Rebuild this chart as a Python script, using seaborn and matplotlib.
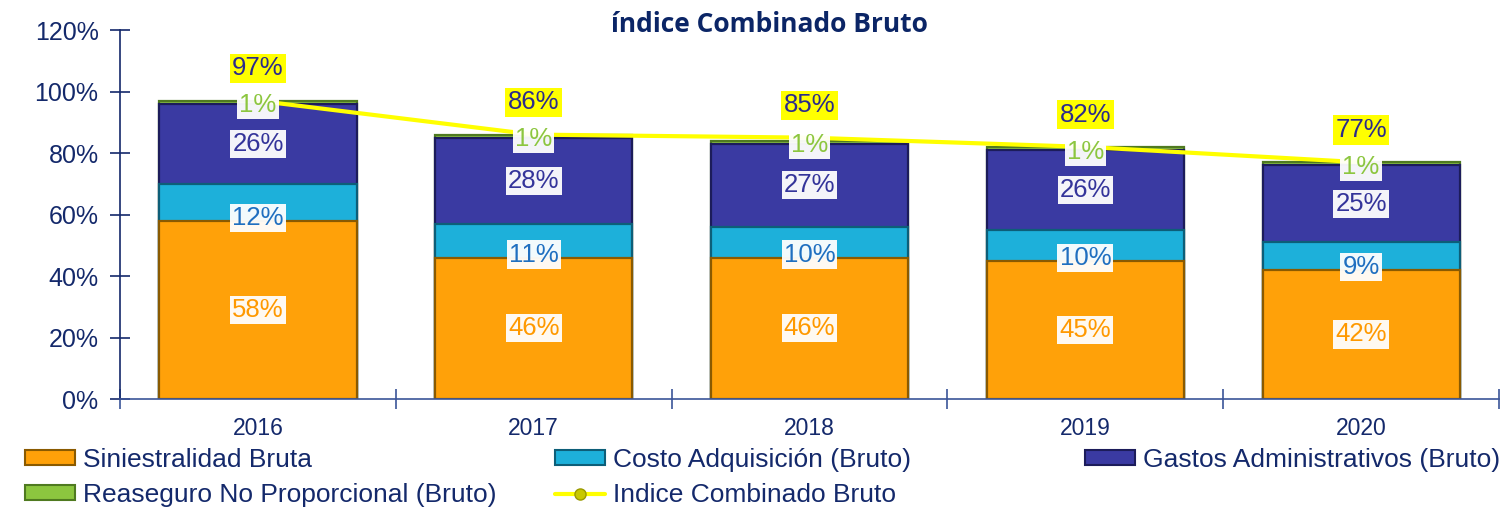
import numpy as np
import pandas as pd
import matplotlib
matplotlib.use("Agg")
import matplotlib.pyplot as plt
import seaborn as sns
from matplotlib.patches import Patch
from matplotlib.lines import Line2D

years = ["2016", "2017", "2018", "2019", "2020"]
siniestralidad = [58, 46, 46, 45, 42]
costo = [12, 11, 10, 10, 9]
gastos = [26, 28, 27, 26, 25]
reaseguro = [1, 1, 1, 1, 1]
indice = [97, 86, 85, 82, 77]
yticks = [0, 20, 40, 60, 80, 100, 120]

series_names = ["Siniestralidad Bruta", "Costo Adquisición (Bruto)",
                "Gastos Administrativos (Bruto)", "Reaseguro No Proporcional (Bruto)"]
series_vals = [siniestralidad, costo, gastos, reaseguro]
fill_colors = ["#FFA109", "#1DB0DA", "#3A3AA2", "#8CC63F"]
edge_colors = ["#8A5A00", "#0D5E78", "#1C1C5A", "#4F7A20"]
label_colors = ["#FF9900", "#1F6FC0", "#34349A", "#8CC63F"]
navy = "#14296B"

sns.set_theme(style="white")
plt.rcParams["font.family"] = ["Liberation Sans", "DejaVu Sans"]

fig = plt.figure(figsize=(15.12, 5.09), dpi=100)
ax = fig.add_axes([0.0794, 0.216, 0.912, 0.725])

cum = np.cumsum(np.array(series_vals), axis=0)
df = pd.DataFrame({"year": years})
# draw from top layer down so lower layers cover
for i in range(len(series_vals) - 1, -1, -1):
    df["v"] = cum[i]
    sns.barplot(data=df, x="year", y="v", color=fill_colors[i], width=0.715,
                edgecolor=edge_colors[i], linewidth=1.6, saturation=1,
                ax=ax, zorder=2)

# combined index line
xpos = np.arange(len(years))
sns.lineplot(x=xpos, y=indice, color="#FFFF00", linewidth=3, ax=ax, zorder=3)

# labels
for j in range(len(years)):
    bottom = 0
    for i, vals in enumerate(series_vals):
        v = vals[j]
        if i == 1:
            yl = bottom + 1
        elif i == 3:
            yl = bottom - 0.5
        else:
            yl = bottom + v / 2
        ax.text(j, yl, f"{v}%", ha="center", va="center", fontsize=18.5,
                color=label_colors[i], zorder=5,
                bbox=dict(boxstyle="square,pad=0.08", fc="white", ec="none", alpha=0.95))
        bottom += v
    ax.text(j, indice[j] + 10.5, f"{indice[j]}%", ha="center", va="center",
            fontsize=18.5, color="#2B2B8C", zorder=5,
            bbox=dict(boxstyle="square,pad=0.1", fc="#FFFF00", ec="none"))

ax.set_xlim(-0.5, len(years) - 0.5)
ax.set_ylim(0, 120)
ax.set_yticks(yticks)
ax.set_yticklabels([f"{t}%" for t in yticks])
ax.set_xlabel("")
ax.set_ylabel("")
ax.tick_params(axis="y", labelsize=18, labelcolor=navy, color=navy, direction="inout",
               length=15, width=1.2, left=True, pad=8)
ax.set_xticks(np.arange(-0.5, len(years), 1.0), minor=True)
ax.tick_params(axis="x", which="major", labelsize=16.5, labelcolor=navy, length=0, pad=13)
ax.tick_params(axis="x", which="minor", color="#3B5598", direction="inout",
               length=14, width=1.2, bottom=True)
for s in ["top", "right"]:
    ax.spines[s].set_visible(False)
ax.spines["left"].set_color(navy)
ax.spines["left"].set_linewidth(1.2)
ax.spines["bottom"].set_color("#3B5598")
ax.spines["bottom"].set_linewidth(1.2)

fig.text(0.509, 0.951, "índice Combinado Bruto", ha="center", va="center",
         fontsize=19, fontweight="bold", color="#0B2566", family=["Open Sans", "DejaVu Sans"])

# legends
def patch(i):
    return Patch(facecolor=fill_colors[i], edgecolor=edge_colors[i], linewidth=1.5)

line_handle = Line2D([], [], color="#FFFF00", linewidth=3, marker="o", markersize=8,
                     markerfacecolor="#C8C800", markeredgecolor="#9A9A00")
leg_kw = dict(frameon=False, fontsize=19, labelcolor=navy, handlelength=1.9,
              handleheight=0.5, handletextpad=0.3, labelspacing=0.42,
              borderaxespad=0, borderpad=0)
top = 0.12
l1 = fig.legend([patch(0), patch(3)], [series_names[0], series_names[3]],
                loc="upper left", bbox_to_anchor=(25 / 1512, top), **leg_kw)
l2 = fig.legend([patch(1), line_handle], [series_names[1], "Indice Combinado Bruto"],
                loc="upper left", bbox_to_anchor=(555 / 1512, top), **leg_kw)
l3 = fig.legend([patch(2)], [series_names[2]],
                loc="upper left", bbox_to_anchor=(1085 / 1512, top), **leg_kw)

fig.savefig("out.png", dpi=100)
